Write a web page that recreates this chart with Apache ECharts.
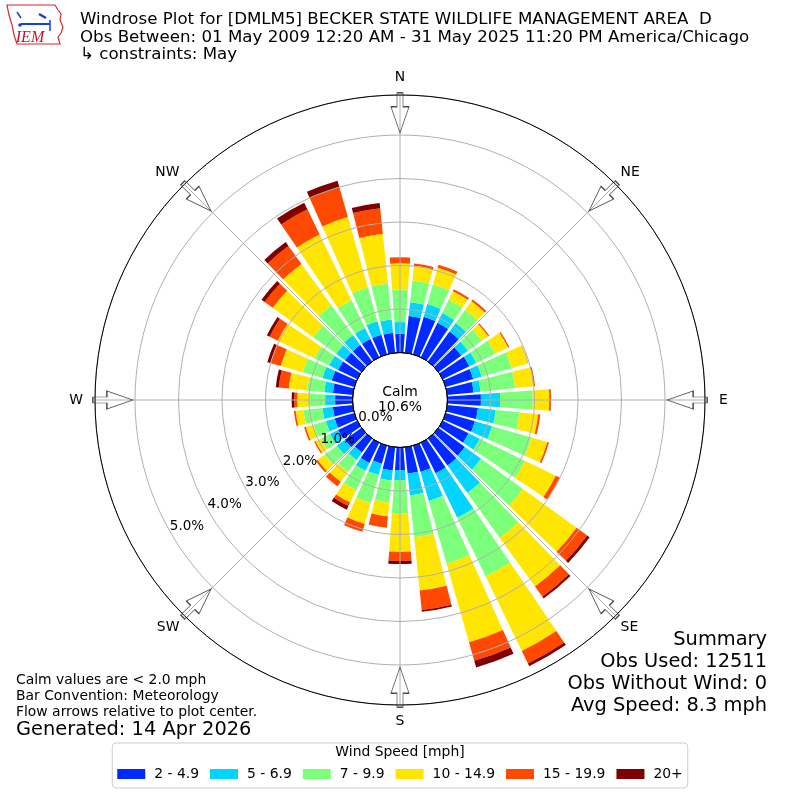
<!DOCTYPE html>
<html>
<head>
<meta charset="utf-8">
<script src="https://cdn.jsdelivr.net/npm/echarts@6/dist/echarts.min.js"></script>
<style>
  html, body { margin: 0; padding: 0; background: #fff; }
  #chart { width: 800px; height: 800px; }
</style>
</head>
<body>
<div id="chart"></div>
<script>
// ---------------- DATA ----------------
const directions = [0,10,20,30,40,50,60,70,80,90,100,110,120,130,140,150,160,170,
                    180,190,200,210,220,230,240,250,260,270,280,290,300,310,320,330,340,350];
const speedBins = ['2 - 4.9', '5 - 6.9', '7 - 9.9', '10 - 14.9', '15 - 19.9', '20+'];
// percent of observations per direction, per speed bin
const pct_2_5   = [0.43,0.85,0.90,0.88,0.85,0.65,0.68,0.66,0.61,0.77,0.71,0.70,0.66,0.75,0.77,0.78,0.63,0.61,
                   0.52,0.54,0.43,0.52,0.40,0.47,0.49,0.47,0.46,0.40,0.46,0.54,0.49,0.47,0.47,0.47,0.47,0.46];
const pct_5_7   = [0.27,0.32,0.30,0.25,0.24,0.19,0.18,0.20,0.16,0.44,0.41,0.41,0.29,0.46,0.78,1.14,0.69,0.50,
                   0.23,0.23,0.27,0.20,0.21,0.23,0.21,0.21,0.24,0.23,0.20,0.22,0.23,0.25,0.28,0.28,0.32,0.31];
const pct_7_10  = [0.75,0.50,0.47,0.34,0.37,0.39,0.48,0.72,0.80,0.75,0.55,0.94,1.15,1.19,1.27,1.50,1.50,0.97,
                   0.76,0.51,0.67,0.49,0.34,0.35,0.23,0.30,0.44,0.35,0.39,0.47,0.37,0.65,0.85,0.71,0.81,0.83];
const pct_10_15 = [0.60,0.34,0.40,0.22,0.25,0.18,0.33,0.39,0.43,0.38,0.43,0.38,0.79,1.52,1.38,1.90,1.88,1.23,
                   0.89,0.32,0.50,0.32,0.28,0.20,0.14,0.18,0.18,0.29,0.43,0.53,0.94,1.15,1.17,1.68,1.68,1.15];
const pct_15_20 = [0.14,0.05,0.07,0.05,0.05,0.03,0.03,0.01,0.03,0.04,0.05,0.04,0.10,0.30,0.29,0.32,0.44,0.45,
                   0.21,0.26,0.19,0.09,0.13,0.05,0.03,0.04,0.04,0.07,0.23,0.25,0.21,0.23,0.51,0.64,0.71,0.59];
const pct_20p   = [0,0,0,0,0,0,0,0,0,0,0,0,0,0.07,0.05,0.07,0.16,0.04,
                   0.07,0,0,0.09,0,0,0,0,0,0.06,0.07,0.07,0.07,0.09,0.11,0.17,0.16,0.12];
const binData = [pct_2_5, pct_5_7, pct_7_10, pct_10_15, pct_15_20, pct_20p];

const compassAngles = [0, 45, 90, 135, 180, 225, 270, 315];
const compassLabels = ['N', 'NE', 'E', 'SE', 'S', 'SW', 'W', 'NW'];
const calmPct = '10.6%';

const titleLines = [
  'Windrose Plot for [DMLM5] BECKER STATE WILDLIFE MANAGEMENT AREA  D',
  'Obs Between: 01 May 2009 12:20 AM - 31 May 2025 11:20 PM America/Chicago',
  '\u21b3 constraints: May'
];
const noteLines = ['Calm values are < 2.0 mph', 'Bar Convention: Meteorology', 'Flow arrows relative to plot center.'];
const generatedText = 'Generated: 14 Apr 2026';
const summaryLines = ['Summary', 'Obs Used: 12511', 'Obs Without Wind: 0', 'Avg Speed: 8.3 mph'];
const legendTitle = 'Wind Speed [mph]';

// ---------------- STYLE / LAYOUT ----------------
const binColors = ['#002aff', '#00d4ff', '#7cff7a', '#ffe600', '#ff4800', '#800000'];
const FONT = "'DejaVu Sans', sans-serif";
const R0 = 47.5, R1 = 305, RMAX = 5.92, LABEL_SHIFT = 19, ARROW_R = 5.51;
// per-label nudges so compass labels sit on a common circle
const compassRichKey = ['n', 'd', 'e', 'd', 's', 'd', 'w', 'd'];

const chart = echarts.init(document.getElementById('chart'), null, { renderer: 'canvas' });

const hidden = { axisLine: { show: false }, axisTick: { show: false }, axisLabel: { show: false }, splitLine: { show: false } };

const series = speedBins.map((name, i) => ({
  type: 'bar', coordinateSystem: 'polar', polarIndex: 0, name: name, stack: 'wind',
  data: binData[i], barCategoryGap: '18%', silent: true, z: 2,
  itemStyle: { color: binColors[i] }
}));
series.push({
  type: 'scatter', coordinateSystem: 'polar', polarIndex: 1, silent: true, z: 8,
  symbol: 'path://M6,0L12,0L12,14L18,14L9,40L0,14L6,14Z', symbolSize: [18, 40],
  itemStyle: { color: 'rgba(255,255,255,0)', borderColor: '#222', borderWidth: 1 },
  data: compassAngles.map(b => ({ value: [ARROW_R, b], symbolRotate: -b }))
});

const textEl = (x, y, text, size, align) => ({
  type: 'text', x: x, y: y, z: 20,
  style: { text: text, fontSize: size, fontFamily: FONT, fill: '#000', align: align || 'left', verticalAlign: 'middle' }
});

const graphics = [
  textEl(80, 20, titleLines[0], 16.67),
  textEl(80, 37.5, titleLines[1], 16.67),
  textEl(80, 55, titleLines[2], 16.67),
  textEl(16, 680, noteLines[0], 13.9),
  textEl(16, 696, noteLines[1], 13.9),
  textEl(16, 712, noteLines[2], 13.9),
  textEl(16, 730, generatedText, 19.4),
  textEl(767, 640, summaryLines[0], 19.4, 'right'),
  textEl(767, 662, summaryLines[1], 19.4, 'right'),
  textEl(767, 684, summaryLines[2], 19.4, 'right'),
  textEl(767, 706, summaryLines[3], 19.4, 'right'),
  textEl(400, 392, 'Calm', 13.9, 'center'),
  textEl(400, 407, calmPct, 13.9, 'center'),
  textEl(400, 752, legendTitle, 13.9, 'center'),
  // IEM logo
  { type: 'group', z: 20, children: [
    { type: 'polygon', shape: { points: [[7,5],[55,5],[58,10],[61,14],[60,20],[63,27],[61,33],[58,37],[60,44],[17,44],[14,35],[12,25],[9,15]] },
      style: { fill: '#fff', stroke: '#d42a2a', lineWidth: 1.2 } },
    { type: 'polyline', shape: { points: [[21,24],[50,24]] }, style: { stroke: '#1a3fd6', lineWidth: 2 } },
    { type: 'polyline', shape: { points: [[17,12],[21,18]] }, style: { stroke: '#1a3fd6', lineWidth: 1.5 } },
    { type: 'polyline', shape: { points: [[39,14],[46,18]] }, style: { stroke: '#1a3fd6', lineWidth: 2.5 } },
    { type: 'polyline', shape: { points: [[50,20],[50,31]] }, style: { stroke: '#1a3fd6', lineWidth: 1.5 } },
    { type: 'circle', shape: { cx: 20, cy: 25, r: 1.8 }, style: { fill: '#1a3fd6' } },
    { type: 'text', x: 30, y: 38, style: { text: 'IEM', fontSize: 16, fontStyle: 'italic', fontFamily: "'Liberation Serif', serif", fill: '#c8102e', align: 'center', verticalAlign: 'middle' } }
  ]}
];

const option = {
  animation: false,
  backgroundColor: '#fff',
  polar: [
    { center: ['50%', '50%'], radius: [R0, R1] },
    { center: ['50%', '50%'], radius: [R0, R1] },
    { center: ['50%', '50%'], radius: [0, R0] },
    { center: [400, 403.5], radius: [R0 - LABEL_SHIFT, R1 - LABEL_SHIFT] }
  ],
  angleAxis: [
    Object.assign({ polarIndex: 0, type: 'category', data: directions.map(String), startAngle: 95, clockwise: true, boundaryGap: true }, hidden),
    { polarIndex: 1, type: 'value', min: 0, max: 360, interval: 45, startAngle: 90, clockwise: true, z: 6,
      axisLine: { show: true, lineStyle: { color: '#000', width: 1 } },
      axisTick: { show: false },
      axisLabel: { show: true, margin: 7, fontSize: 13.9, color: '#000', fontFamily: FONT,
        formatter: v => { const k = compassAngles.indexOf(v); return k >= 0 ? '{' + compassRichKey[k] + '|' + compassLabels[k] + '}' : ''; },
        rich: {
          n: { fontSize: 13.9, fontFamily: FONT, color: '#000', padding: [0, 0, 4, 0] },
          s: { fontSize: 13.9, fontFamily: FONT, color: '#000', padding: [2, 0, 0, 0] },
          e: { fontSize: 13.9, fontFamily: FONT, color: '#000', padding: [0, 0, 0, 7] },
          w: { fontSize: 13.9, fontFamily: FONT, color: '#000', padding: [0, 5, 0, 0] },
          d: { fontSize: 13.9, fontFamily: FONT, color: '#000' }
        } },
      splitLine: { show: true, lineStyle: { color: '#b0b0b0', width: 1 } } },
    { polarIndex: 2, type: 'value', min: 0, max: 360, startAngle: 90, clockwise: true, z: 6,
      axisLine: { show: true, lineStyle: { color: '#000', width: 1 } },
      axisTick: { show: false }, axisLabel: { show: false }, splitLine: { show: false } },
    Object.assign({ polarIndex: 3, type: 'value', min: 0, max: 360, startAngle: 210, clockwise: true }, hidden)
  ],
  radiusAxis: [
    Object.assign({ polarIndex: 0, type: 'value', min: 0, max: RMAX }, hidden),
    { polarIndex: 1, type: 'value', min: 0, max: RMAX, interval: 1, z: 5,
      axisLine: { show: false }, axisTick: { show: false }, axisLabel: { show: false },
      splitLine: { show: true, lineStyle: { color: '#b0b0b0', width: 1 } } },
    Object.assign({ polarIndex: 2, type: 'value', min: 0, max: 1 }, hidden),
    { polarIndex: 3, type: 'value', min: 0, max: RMAX, interval: 1, z: 7,
      axisLine: { show: false }, axisTick: { show: false }, splitLine: { show: false },
      axisLabel: { show: true, margin: 0, align: 'center', verticalAlign: 'middle', fontSize: 13.5, color: '#000', fontFamily: FONT,
        formatter: v => (v > RMAX - 0.5 ? '' : v.toFixed(1) + '%') } }
  ],
  legend: {
    data: speedBins, left: 'center', bottom: 12, orient: 'horizontal', icon: 'rect', selectedMode: false,
    itemWidth: 28, itemHeight: 10, itemGap: 11, padding: [24, 5, 7, 5],
    borderColor: '#cccccc', borderWidth: 1, borderRadius: 4, backgroundColor: '#fff',
    textStyle: { fontSize: 13.9, color: '#000', fontFamily: FONT, padding: [0, 0, 0, 4] }
  },
  graphic: graphics,
  series: series
};
chart.setOption(option);
</script>
</body>
</html>
